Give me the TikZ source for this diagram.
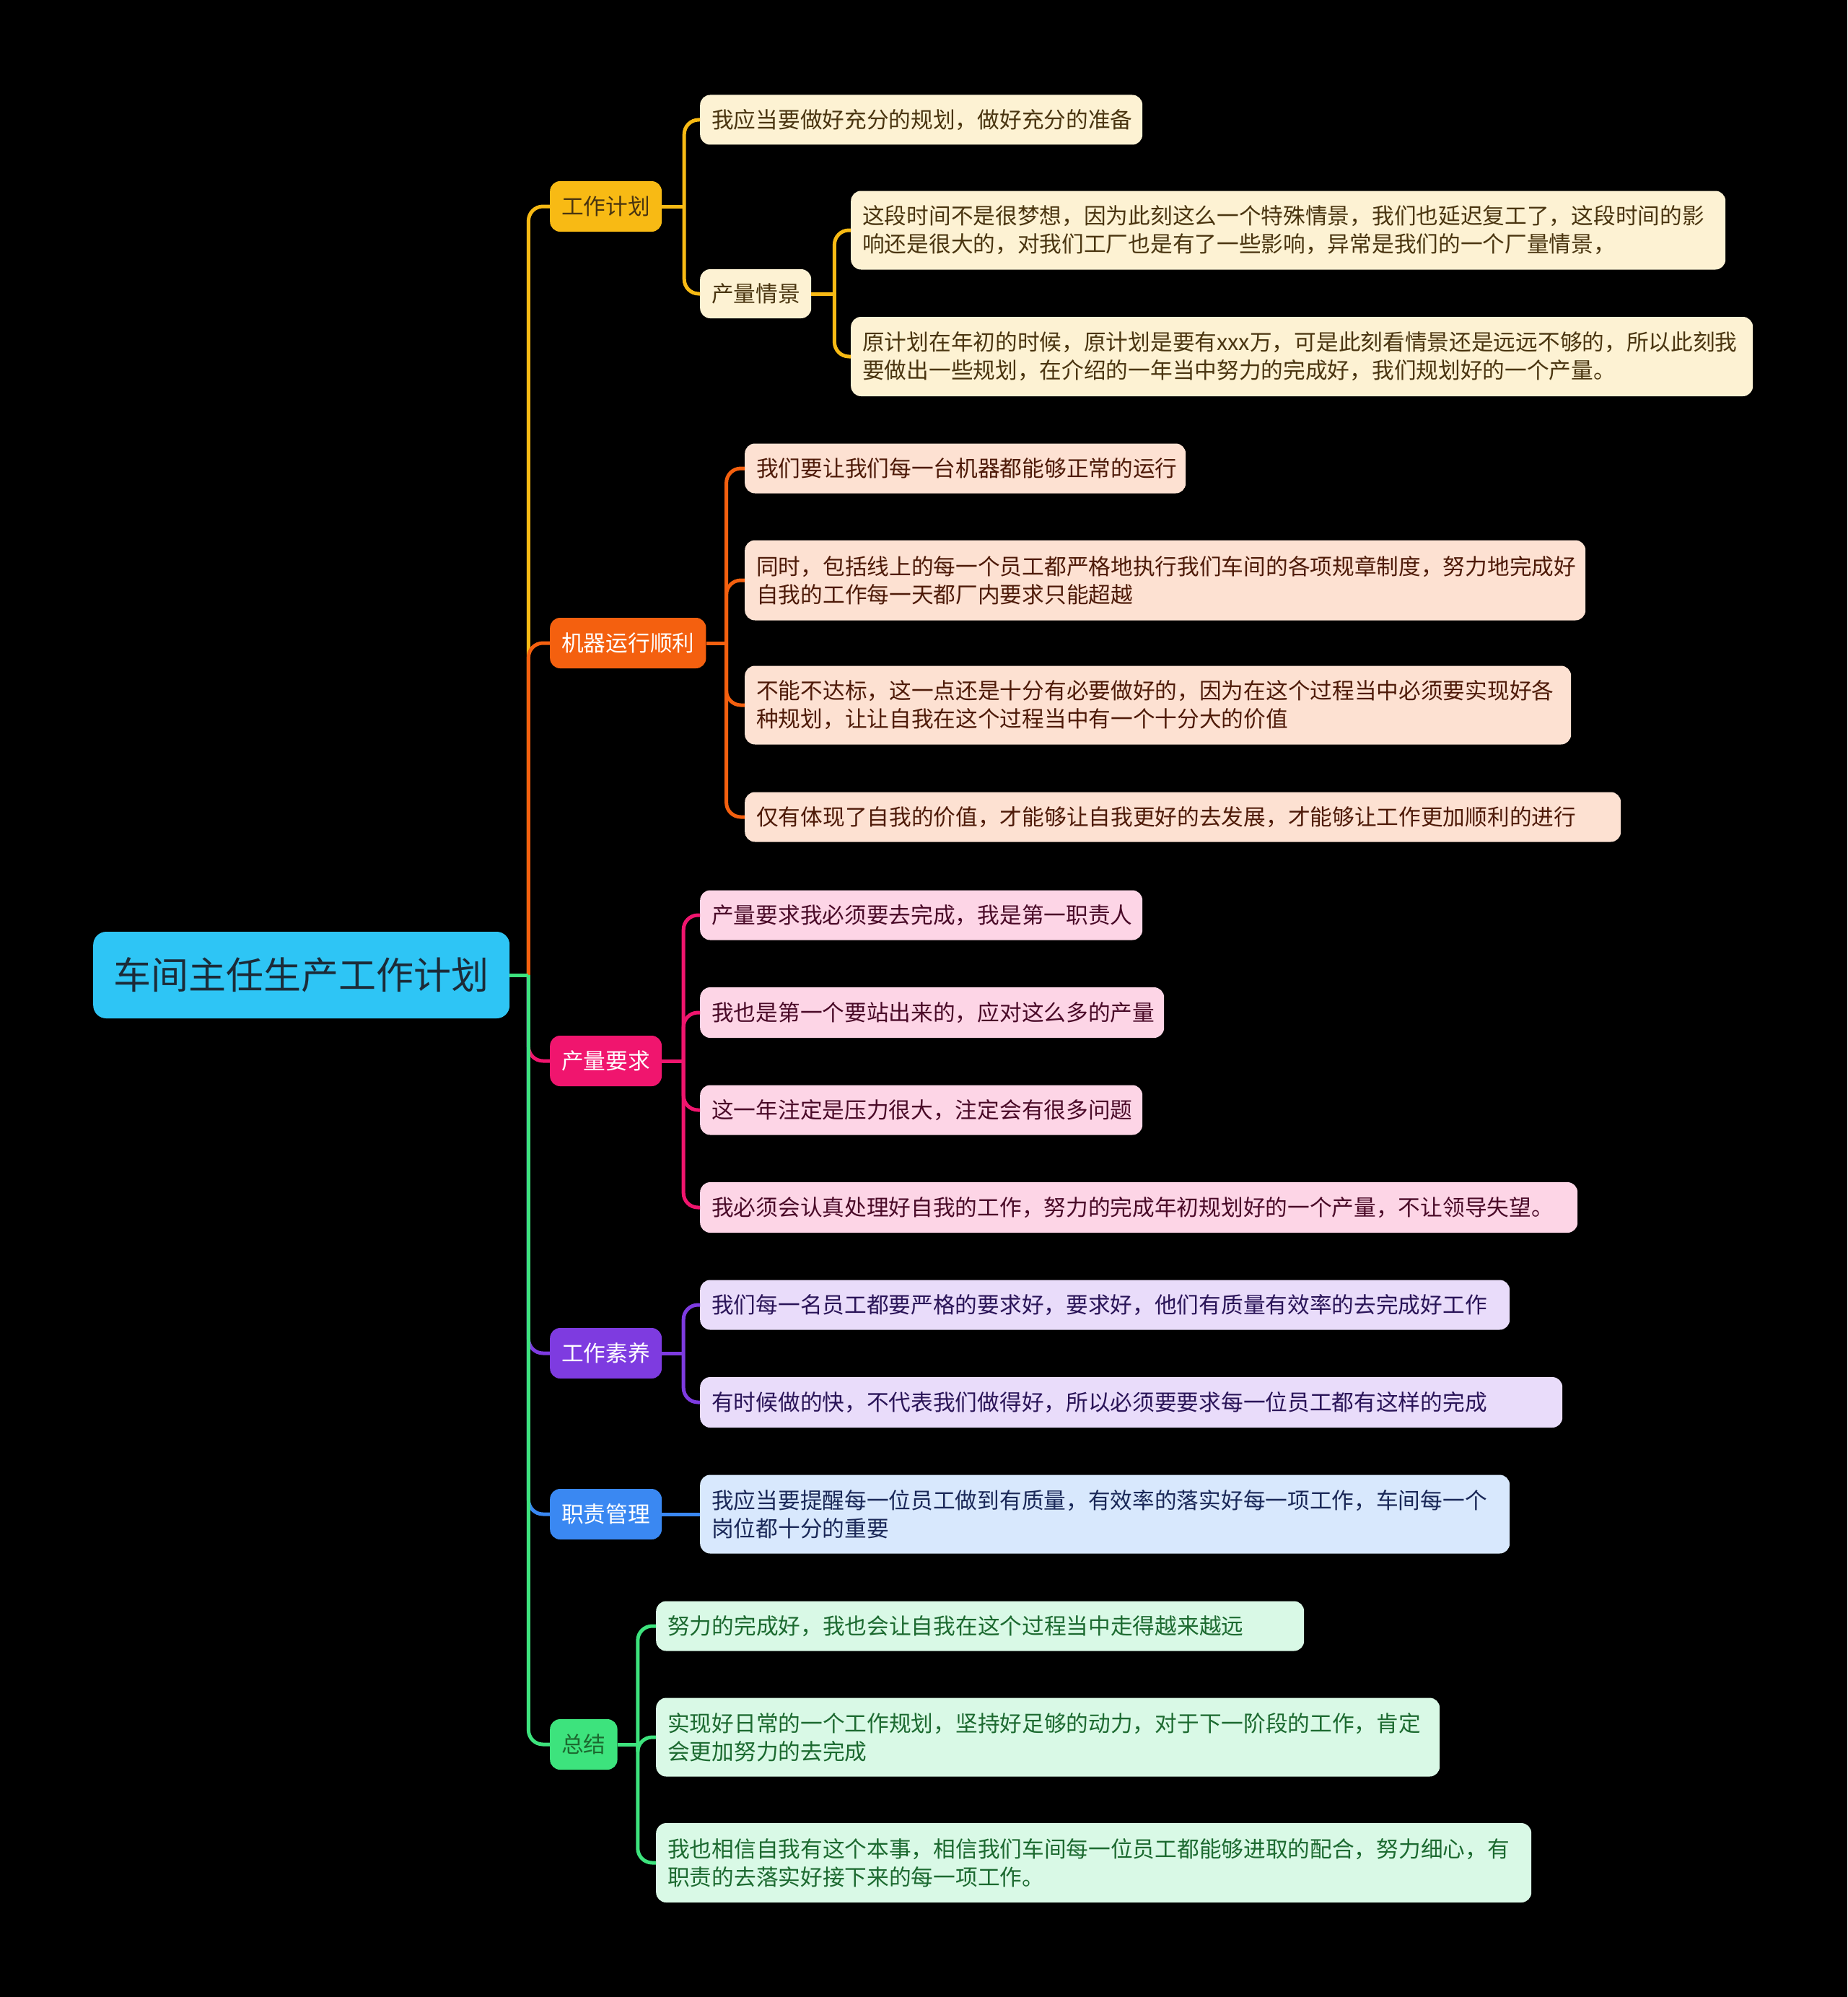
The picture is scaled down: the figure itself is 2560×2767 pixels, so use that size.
\documentclass[tikz,border=0pt]{standalone}
\usepackage{fontspec}
\setmainfont{Noto Sans CJK SC}
\definecolor{bg}{HTML}{000000}
\definecolor{rootc}{HTML}{2EC5F5}
\definecolor{roottx}{HTML}{1C2B38}
\definecolor{cy}{HTML}{F8BA14}\definecolor{cyl}{HTML}{FDF2D3}\definecolor{cyt}{HTML}{4A3510}
\definecolor{co}{HTML}{F4600F}\definecolor{col}{HTML}{FDE1D2}\definecolor{cot}{HTML}{4E1A08}
\definecolor{cp}{HTML}{F0156E}\definecolor{cpl}{HTML}{FDD5E6}\definecolor{cpt}{HTML}{4A0A28}
\definecolor{cv}{HTML}{7E3BE0}\definecolor{cvl}{HTML}{E9DCFA}\definecolor{cvt}{HTML}{2A1458}
\definecolor{cb}{HTML}{3A88F2}\definecolor{cbl}{HTML}{D8E8FD}\definecolor{cbt}{HTML}{1A2858}
\definecolor{cg}{HTML}{3DE37D}\definecolor{cgl}{HTML}{D9F9E6}\definecolor{cgt}{HTML}{1C6A30}
\tikzset{
  rootbox/.style={anchor=west, rounded corners=18pt, inner sep=0pt, font=\fontsize{52}{60}\selectfont},
  lone/.style={anchor=west, rounded corners=14pt, inner xsep=16pt, inner ysep=0pt, minimum height=70pt, font=\fontsize{30.7}{39}\selectfont},
  ltwo/.style={anchor=west, rounded corners=14pt, inner xsep=16pt, inner ysep=0pt, align=left, font=\fontsize{30.7}{39}\selectfont},
  br/.style={line width=5pt, rounded corners=20pt},
}
\begin{document}
\begin{tikzpicture}[x=1pt,y=-1pt]
\fill[bg] (0,0) rectangle (2560,2767);
\useasboundingbox (0,0) rectangle (2560,2767);

% root
\node[rootbox, fill=rootc, text=roottx, minimum width=577pt, minimum height=120pt] (root) at (129,1351) {车间主任生产工作计划};

% level 1
\node[lone, fill=cy, text=cyt, minimum width=154pt] (k1) at (762,286) {工作计划};
\node[lone, fill=co, text=white, minimum width=214pt] (k2) at (762,891) {机器运行顺利};
\node[lone, fill=cp, text=white, minimum width=154pt] (k3) at (762,1470) {产量要求};
\node[lone, fill=cv, text=white, minimum width=154pt] (k4) at (762,1875) {工作素养};
\node[lone, fill=cb, text=white, minimum width=154pt] (k5) at (762,2098) {职责管理};
\node[lone, fill=cg, text=cgt, minimum width=92pt] (k6) at (762,2417) {总结};

% level 2 - 工作计划
\node[ltwo, fill=cyl, text=cyt, text width=581pt, minimum height=69pt] (a1) at (970,166) {我应当要做好充分的规划，做好充分的准备};
\node[ltwo, fill=cyl, text=cyt, text width=122pt, minimum height=68pt] (a2) at (970,407) {产量情景};
\node[ltwo, fill=cyl, text=cyt, text width=1180pt, minimum height=109pt] (b1) at (1179,319) {这段时间不是很梦想，因为此刻这么一个特殊情景，我们也延迟复工了，这段时间的影\\响还是很大的，对我们工厂也是有了一些影响，异常是我们的一个厂量情景，};
\node[ltwo, fill=cyl, text=cyt, text width=1218pt, minimum height=110pt] (b2) at (1179,494) {原计划在年初的时候，原计划是要有xxx万，可是此刻看情景还是远远不够的，所以此刻我\\要做出一些规划，在介绍的一年当中努力的完成好，我们规划好的一个产量。};

% level 2 - 机器运行顺利
\node[ltwo, fill=col, text=cot, text width=579pt, minimum height=69pt] (c1) at (1032,649) {我们要让我们每一台机器都能够正常的运行};
\node[ltwo, fill=col, text=cot, text width=1133pt, minimum height=111pt] (c2) at (1032,804) {同时，包括线上的每一个员工都严格地执行我们车间的各项规章制度，努力地完成好\\自我的工作每一天都厂内要求只能超越};
\node[ltwo, fill=col, text=cot, text width=1113pt, minimum height=109pt] (c3) at (1032,977) {不能不达标，这一点还是十分有必要做好的，因为在这个过程当中必须要实现好各\\种规划，让让自我在这个过程当中有一个十分大的价值};
\node[ltwo, fill=col, text=cot, text width=1182pt, minimum height=69pt] (c4) at (1032,1132) {仅有体现了自我的价值，才能够让自我更好的去发展，才能够让工作更加顺利的进行};

% level 2 - 产量要求
\node[ltwo, fill=cpl, text=cpt, text width=581pt, minimum height=69pt] (d1) at (970,1268) {产量要求我必须要去完成，我是第一职责人};
\node[ltwo, fill=cpl, text=cpt, text width=611pt, minimum height=70pt] (d2) at (970,1403) {我也是第一个要站出来的，应对这么多的产量};
\node[ltwo, fill=cpl, text=cpt, text width=581pt, minimum height=69pt] (d3) at (970,1538) {这一年注定是压力很大，注定会有很多问题};
\node[ltwo, fill=cpl, text=cpt, text width=1184pt, minimum height=70pt] (d4) at (970,1673) {我必须会认真处理好自我的工作，努力的完成年初规划好的一个产量，不让领导失望。};

% level 2 - 工作素养
\node[ltwo, fill=cvl, text=cvt, text width=1090pt, minimum height=69pt] (e1) at (970,1808) {我们每一名员工都要严格的要求好，要求好，他们有质量有效率的去完成好工作};
\node[ltwo, fill=cvl, text=cvt, text width=1163pt, minimum height=70pt] (e2) at (970,1943) {有时候做的快，不代表我们做得好，所以必须要要求每一位员工都有这样的完成};

% level 2 - 职责管理
\node[ltwo, fill=cbl, text=cbt, text width=1090pt, minimum height=109pt] (f1) at (970,2098) {我应当要提醒每一位员工做到有质量，有效率的落实好每一项工作，车间每一个\\岗位都十分的重要};

% level 2 - 总结
\node[ltwo, fill=cgl, text=cgt, text width=866pt, minimum height=69pt] (g1) at (909,2253) {努力的完成好，我也会让自我在这个过程当中走得越来越远};
\node[ltwo, fill=cgl, text=cgt, text width=1054pt, minimum height=109pt] (g2) at (909,2407) {实现好日常的一个工作规划，坚持好足够的动力，对于下一阶段的工作，肯定\\会更加努力的去完成};
\node[ltwo, fill=cgl, text=cgt, text width=1181pt, minimum height=110pt] (g3) at (909,2581) {我也相信自我有这个本事，相信我们车间每一位员工都能够进取的配合，努力细心，有\\职责的去落实好接下来的每一项工作。};

% junction points
\coordinate (j0) at ([xshift=26pt]root.east);
\coordinate (j1) at ([xshift=31pt]k1.east);
\coordinate (j1b) at ([xshift=32pt]a2.east);
\coordinate (j2) at ([xshift=28pt]k2.east);
\coordinate (j3) at ([xshift=30pt]k3.east);
\coordinate (j4) at ([xshift=30pt]k4.east);
\coordinate (j6) at ([xshift=28pt]k6.east);

% root connectors
\draw[br, cy] (j0) |- (k1.west);
\draw[br, co] (j0) |- (k2.west);
\draw[br, cp] (j0) |- (k3.west);
\draw[br, cv] (j0) |- (k4.west);
\draw[br, cb] (j0) |- (k5.west);
\draw[br, cg] (j0) |- (k6.west);
\draw[br, cg] (root.east) -- (j0);

% branch connectors
\draw[br, cy] (k1.east) -- (j1);
\foreach \c in {a1,a2} \draw[br, cy] (j1) |- (\c.west);
\draw[br, cy] (a2.east) -- (j1b);
\foreach \c in {b1,b2} \draw[br, cy] (j1b) |- (\c.west);
\draw[br, co] (k2.east) -- (j2);
\foreach \c in {c1,c2,c3,c4} \draw[br, co] (j2) |- (\c.west);
\draw[br, cp] (k3.east) -- (j3);
\foreach \c in {d1,d2,d3,d4} \draw[br, cp] (j3) |- (\c.west);
\draw[br, cv] (k4.east) -- (j4);
\foreach \c in {e1,e2} \draw[br, cv] (j4) |- (\c.west);
\draw[br, cb] (k5.east) -- (f1.west);
\draw[br, cg] (k6.east) -- (j6);
\foreach \c in {g1,g2,g3} \draw[br, cg] (j6) |- (\c.west);
\end{tikzpicture}
\end{document}
